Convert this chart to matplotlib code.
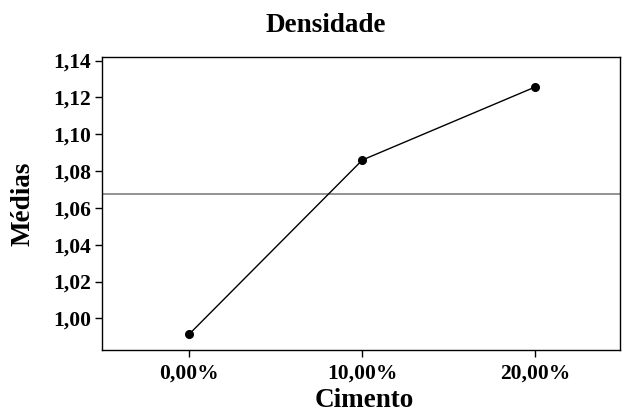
import matplotlib.pyplot as plt
import numpy as np

# médias de densidade por teor de cimento
niveis = ['0,00%', '10,00%', '20,00%']
medias = [0.9915, 1.086, 1.1257]
yticks = [1.00, 1.02, 1.04, 1.06, 1.08, 1.10, 1.12, 1.14]

plt.rcParams['font.family'] = 'Liberation Serif'
plt.rcParams['font.weight'] = 'bold'

fig = plt.figure(figsize=(6.22, 4.12), dpi=100)
ax = fig.add_axes([0.164, 0.1505, 0.833, 0.7105])

x = np.arange(len(niveis))
ax.axhline(np.mean(medias), color='#808080', lw=1.2)
ax.plot(x, medias, color='black', lw=1, marker='o', markersize=5.5)

ax.set_xlim(-0.505, 2.49)
ax.set_ylim(0.9828, 1.1418)
ax.set_xticks(x)
ax.set_xticklabels(niveis)
ax.set_yticks(yticks)
ax.set_yticklabels([f'{v:.2f}'.replace('.', ',') for v in yticks])
ax.tick_params(direction='out', length=5, width=1, labelsize=15.5)
ax.tick_params(axis='y', pad=3)
ax.tick_params(axis='x', pad=5)
for s in ax.spines.values():
    s.set_linewidth(1)

fig.text(326 / 622, 1 - 32 / 412, 'Densidade', ha='center', va='baseline', fontsize=19.5, fontweight='bold')
fig.text(23 / 622, 1 - 203.5 / 412, 'Médias', ha='center', va='center', rotation=90, fontsize=19.5, fontweight='bold')
fig.text(364.5 / 622, 1 - 407 / 412, 'Cimento', ha='center', va='baseline', fontsize=19.5, fontweight='bold')

fig.savefig('out.png', dpi=100)
